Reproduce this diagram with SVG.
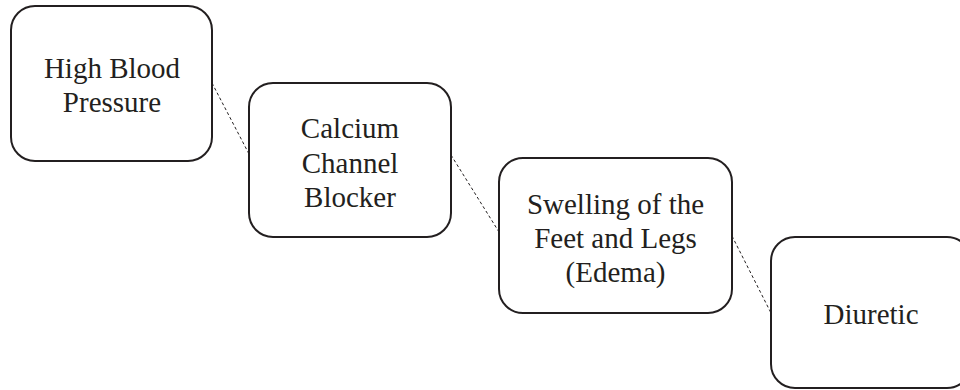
<svg xmlns="http://www.w3.org/2000/svg" width="960" height="390" viewBox="0 0 960 390">
<style>
.box{fill:#fff;stroke:#231f20;stroke-width:2}
.lbl{font-family:"Liberation Serif","Times New Roman",serif;font-size:29px;fill:#231f20;text-anchor:middle}
.con{stroke:#231f20;stroke-width:1;stroke-dasharray:3 2.5;fill:none}
</style>
<rect width="960" height="390" fill="#fff"/>
<g id="connectors">
<line class="con" x1="212" y1="83" x2="249" y2="154"/>
<line class="con" x1="451" y1="155" x2="499" y2="232"/>
<line class="con" x1="732" y1="236" x2="771" y2="313"/>
</g>
<g id="node-high-blood-pressure">
<rect class="box" x="11" y="6" width="201" height="155" rx="24"/>
<text class="lbl" x="112" y="78">High Blood</text>
<text class="lbl" x="112" y="112">Pressure</text>
</g>
<g id="node-calcium-channel-blocker">
<rect class="box" x="249" y="83" width="202" height="154" rx="24"/>
<text class="lbl" x="350" y="138">Calcium</text>
<text class="lbl" x="350" y="173">Channel</text>
<text class="lbl" x="350" y="207">Blocker</text>
</g>
<g id="node-edema">
<rect class="box" x="499" y="158" width="233" height="155" rx="24"/>
<text class="lbl" x="615.5" y="214">Swelling of the</text>
<text class="lbl" x="615.5" y="248">Feet and Legs</text>
<text class="lbl" x="615.5" y="282">(Edema)</text>
</g>
<g id="node-diuretic">
<rect class="box" x="771" y="237" width="200" height="151" rx="24"/>
<text class="lbl" x="871" y="324">Diuretic</text>
</g>
</svg>
